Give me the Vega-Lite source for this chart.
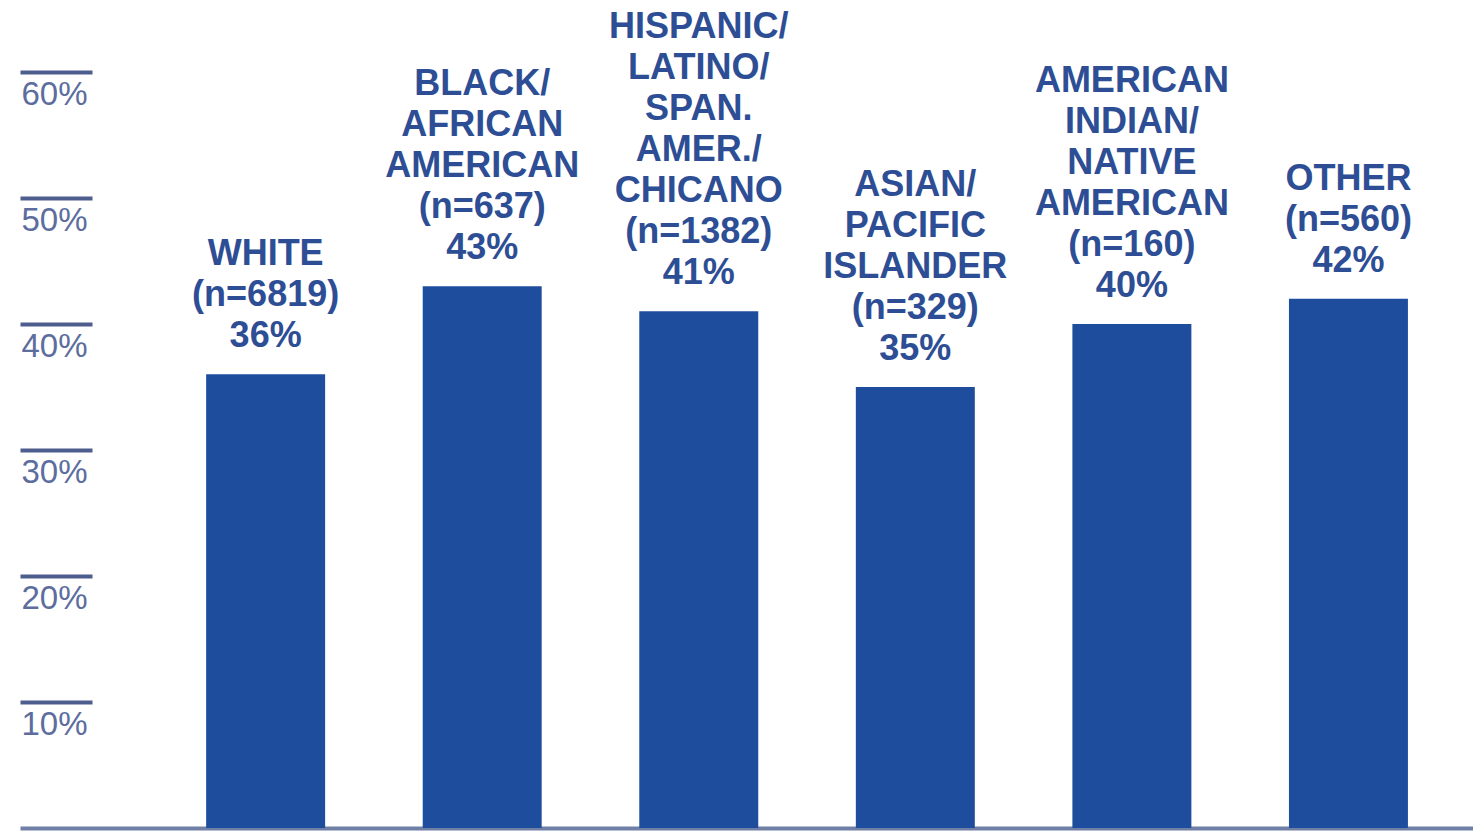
{
  "$schema": "https://vega.github.io/schema/vega-lite/v6.json",
  "width": 1453,
  "height": 828,
  "autosize": {"type": "none"},
  "padding": {"left": 20, "top": 0, "right": 0, "bottom": 3},
  "background": "white",
  "config": {"view": {"stroke": null}},
  "data": {
    "values": [
      {"group": "White", "value": 36, "label": "WHITE|(n=6819)|36%"},
      {"group": "Black/African American", "value": 43, "label": "BLACK/|AFRICAN|AMERICAN|(n=637)|43%"},
      {"group": "Hispanic/Latino/Span. Amer./Chicano", "value": 41, "label": "HISPANIC/|LATINO/|SPAN.|AMER./|CHICANO|(n=1382)|41%"},
      {"group": "Asian/Pacific Islander", "value": 35, "label": "ASIAN/|PACIFIC|ISLANDER|(n=329)|35%"},
      {"group": "American Indian/Native American", "value": 40, "label": "AMERICAN|INDIAN/|NATIVE|AMERICAN|(n=160)|40%"},
      {"group": "Other", "value": 42, "label": "OTHER|(n=560)|42%"}
    ]
  },
  "encoding": {
    "x": {
      "field": "group",
      "type": "nominal",
      "sort": null,
      "scale": {"paddingInner": 0.4506, "paddingOuter": 0.58, "align": 0.741},
      "axis": {"title": null, "labels": false, "ticks": false, "grid": false, "domain": true, "domainColor": "#6f7fa6", "domainWidth": 4}
    }
  },
  "layer": [
    {
      "mark": {"type": "bar", "color": "#1f4d9e", "clip": true},
      "encoding": {
        "y": {
          "field": "value",
          "type": "quantitative",
          "scale": {"domain": [0, 65.71], "nice": false},
          "axis": {
            "title": null,
            "orient": "left",
            "values": [10, 20, 30, 40, 50, 60],
            "labelExpr": "datum.value + '%'",
            "domain": false,
            "grid": false,
            "ticks": true,
            "tickSize": -72,
            "tickWidth": 4,
            "tickColor": "#4d5e8e",
            "labelFont": "Liberation Sans",
            "labelFontSize": 33,
            "labelColor": "#5c6d9e",
            "labelAlign": "left",
            "labelBaseline": "middle",
            "labelPadding": 71,
            "labelOffset": 23
          }
        }
      }
    },
    {
      "transform": [{"filter": "datum.group == 'White' || datum.group == 'Other'"}],
      "mark": {"type": "text", "font": "Liberation Sans", "fontWeight": "bold", "fontSize": 36, "lineBreak": "|", "lineHeight": 41, "baseline": "bottom", "dy": -101, "color": "#2d4e95"},
      "encoding": {
        "y": {"field": "value", "type": "quantitative"},
        "text": {"field": "label"}
      }
    },
    {
      "transform": [{"filter": "datum.group == 'Black/African American' || datum.group == 'Asian/Pacific Islander'"}],
      "mark": {"type": "text", "font": "Liberation Sans", "fontWeight": "bold", "fontSize": 36, "lineBreak": "|", "lineHeight": 41, "baseline": "bottom", "dy": -183, "color": "#2d4e95"},
      "encoding": {
        "y": {"field": "value", "type": "quantitative"},
        "text": {"field": "label"}
      }
    },
    {
      "transform": [{"filter": "datum.group == 'American Indian/Native American'"}],
      "mark": {"type": "text", "font": "Liberation Sans", "fontWeight": "bold", "fontSize": 36, "lineBreak": "|", "lineHeight": 41, "baseline": "bottom", "dy": -224, "color": "#2d4e95"},
      "encoding": {
        "y": {"field": "value", "type": "quantitative"},
        "text": {"field": "label"}
      }
    },
    {
      "transform": [{"filter": "datum.group == 'Hispanic/Latino/Span. Amer./Chicano'"}],
      "mark": {"type": "text", "font": "Liberation Sans", "fontWeight": "bold", "fontSize": 36, "lineBreak": "|", "lineHeight": 41, "baseline": "bottom", "dy": -265, "color": "#2d4e95"},
      "encoding": {
        "y": {"field": "value", "type": "quantitative"},
        "text": {"field": "label"}
      }
    }
  ]
}
